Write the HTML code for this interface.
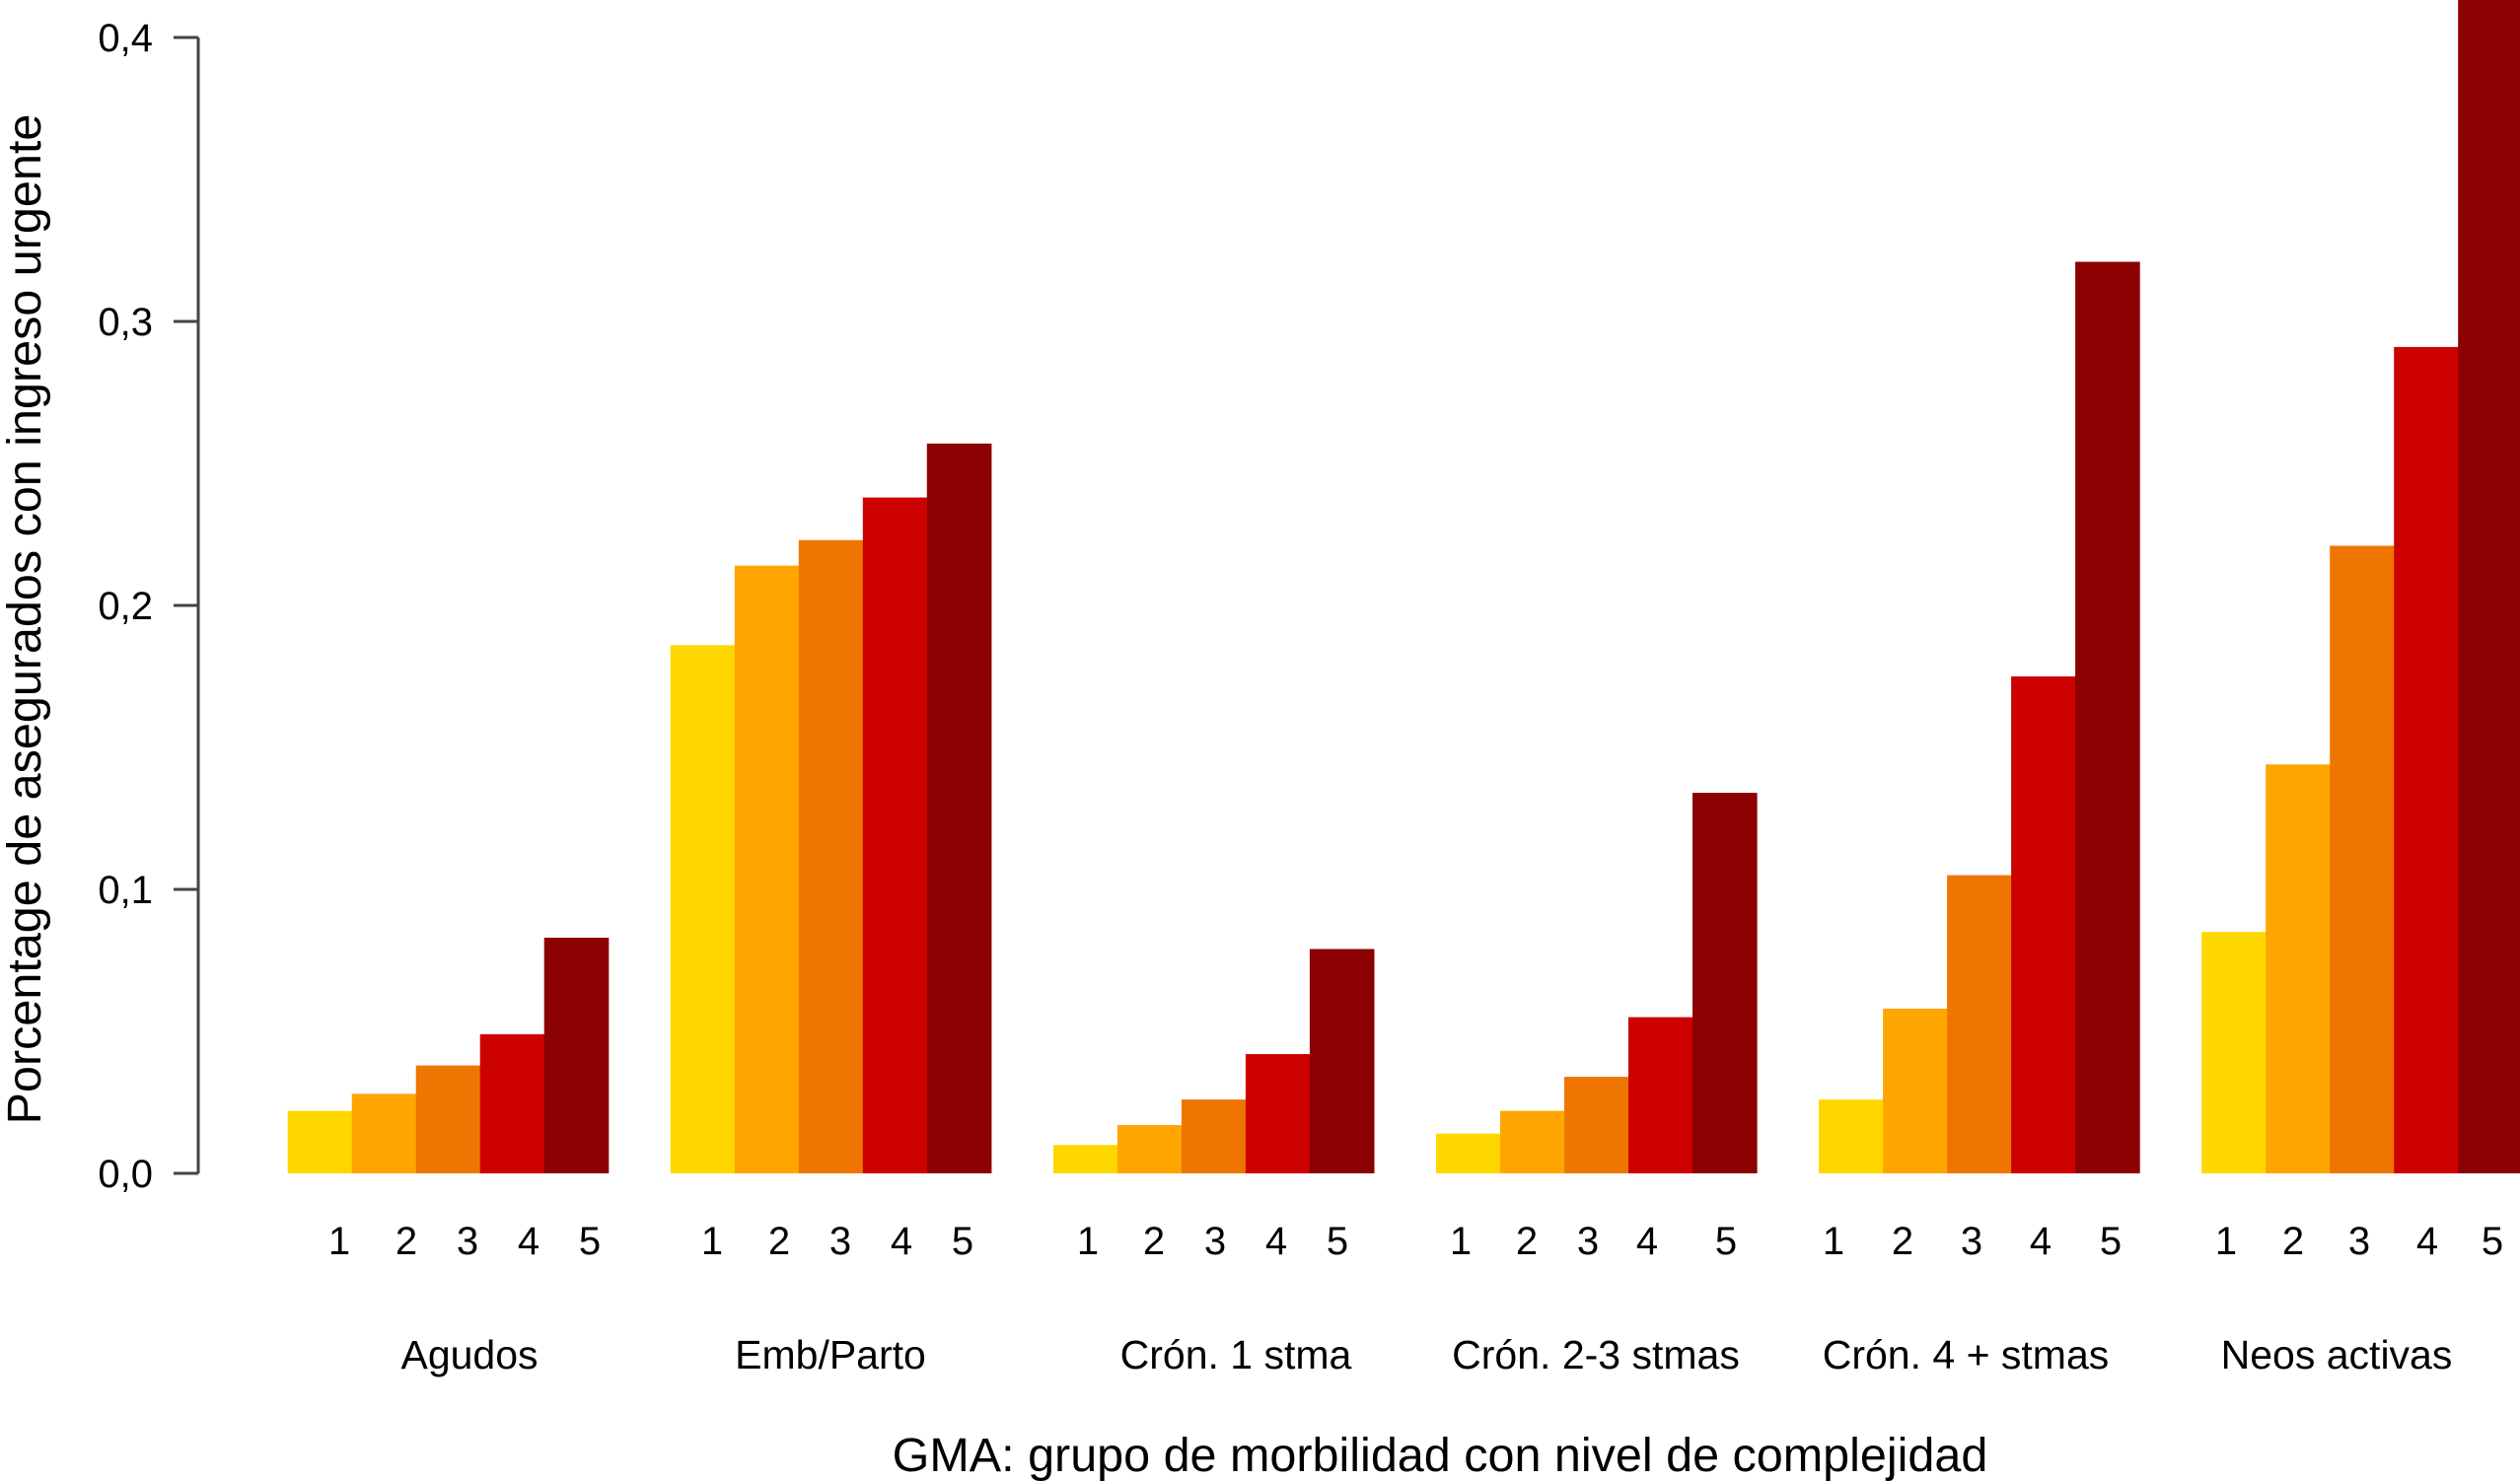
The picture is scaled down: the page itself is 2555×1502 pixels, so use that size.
<!DOCTYPE html>
<html><head><meta charset="utf-8"><style>
html,body{margin:0;padding:0;background:#fff}
svg{display:block}
text{font-family:"Liberation Sans",Arial,sans-serif;fill:#000}
</style></head><body>
<svg id="chart" width="2555" height="1502" viewBox="0 0 2555 1502" xmlns="http://www.w3.org/2000/svg">
<g id="bars"></g>
<g id="axis"></g>
<g id="labels"></g>
<text transform="translate(41,628) rotate(-90)" text-anchor="middle" font-size="48.5">Porcentage de asegurados con ingreso urgente</text>
<text x="1460" y="1492" text-anchor="middle" font-size="48.5">GMA: grupo de morbilidad con nivel de complejidad</text>
</svg>
<script>
const categories = ["Agudos","Emb/Parto","Crón. 1 stma","Crón. 2-3 stmas","Crón. 4 + stmas","Neos activas"];
const levels = ["1","2","3","4","5"];
const level1 = [0.022,0.186,0.010,0.014,0.026,0.085];
const level2 = [0.028,0.214,0.017,0.022,0.058,0.144];
const level3 = [0.038,0.223,0.026,0.034,0.105,0.221];
const level4 = [0.049,0.238,0.042,0.055,0.175,0.291];
const level5 = [0.083,0.257,0.079,0.134,0.321,0.450];
const yTicks = [0,0.1,0.2,0.3,0.4];
const yTickLabels = ["0,0","0,1","0,2","0,3","0,4"];
const colors = ["#FFD700","#FFA500","#EE7600","#CD0000","#8B0000"];
const series = [level1,level2,level3,level4,level5];
const NS = "http://www.w3.org/2000/svg";
const y0 = 1190, yPerUnit = 2880;
function yScale(v){ return y0 - v*yPerUnit; }
const groupStart = 291.7, groupStep = 388.1, barW = 65;
function xBar(g,i){ return groupStart + g*groupStep + i*barW; }
const bars = document.getElementById('bars');
categories.forEach((c,g)=>{
  series.forEach((s,i)=>{
    const r = document.createElementNS(NS,'rect');
    
    
    const top = Math.max(0,yScale(s[g]));
    r.setAttribute('x',xBar(g,i));
    r.setAttribute('y',top);
    r.setAttribute('width',barW+0.6);
    r.setAttribute('height',y0-top);
    r.setAttribute('fill',colors[i]);
    bars.appendChild(r);
  });
});
const axis = document.getElementById('axis');
const ax = document.createElementNS(NS,'line');


ax.setAttribute('x1',201);ax.setAttribute('x2',201);
ax.setAttribute('y1',yScale(yTicks[yTicks.length-1]));ax.setAttribute('y2',yScale(yTicks[0]));
ax.setAttribute('stroke','#444');ax.setAttribute('stroke-width',3);
axis.appendChild(ax);
yTicks.forEach((t,k)=>{
  const l = document.createElementNS(NS,'line');
  
  
  l.setAttribute('x1',176);l.setAttribute('x2',201);
  l.setAttribute('y1',yScale(t));l.setAttribute('y2',yScale(t));
  l.setAttribute('stroke','#444');l.setAttribute('stroke-width',3);
  axis.appendChild(l);
  const tx = document.createElementNS(NS,'text');
  
  
  tx.setAttribute('x',155);tx.setAttribute('y',yScale(t)+14);
  tx.setAttribute('text-anchor','end');tx.setAttribute('font-size','40');
  tx.textContent = yTickLabels[k];
  axis.appendChild(tx);
});
const labels = document.getElementById('labels');
const numX = [
  [344,412,474,536,598],
  [722,790,852,914,976],
  [1103,1170,1232,1294,1356],
  [1481,1548,1610,1670,1750],
  [1859,1929,1999,2069,2140],
  [2257,2325,2392,2461,2527]
];
const groupLabelCenters = [476,842,1253,1618,1993,2369];
categories.forEach((c,g)=>{
  levels.forEach((lv,i)=>{
    const t = document.createElementNS(NS,'text');
    
    
    t.setAttribute('x',numX[g][i]);
    t.setAttribute('y',1272);
    t.setAttribute('text-anchor','middle');t.setAttribute('font-size','40');
    t.textContent = lv;
    labels.appendChild(t);
  });
  const t = document.createElementNS(NS,'text');
  
  
  t.setAttribute('x',groupLabelCenters[g]);
  t.setAttribute('y',1388);
  t.setAttribute('text-anchor','middle');t.setAttribute('font-size','41');
  t.textContent = c;
  labels.appendChild(t);
});
</script>
</body></html>
